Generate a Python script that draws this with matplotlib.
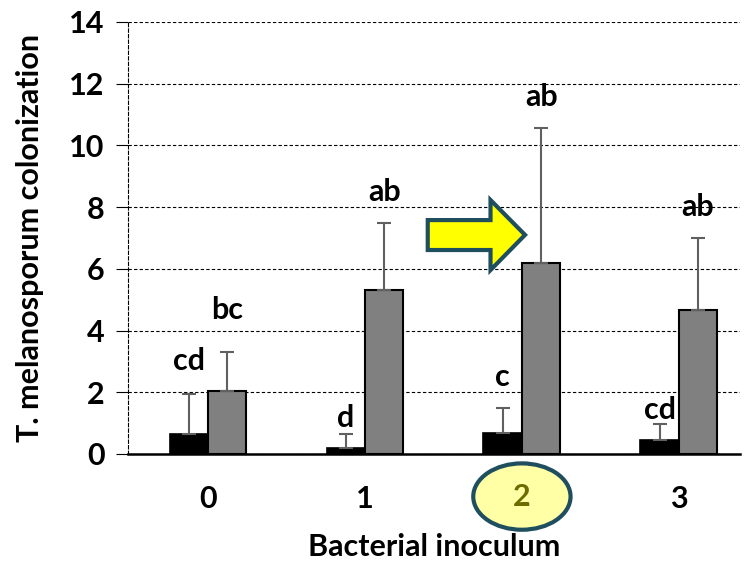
import matplotlib
matplotlib.use("Agg")
import matplotlib.pyplot as plt
import numpy as np
from matplotlib.patches import Ellipse, Polygon

plt.rcParams["font.family"] = ["Lato", "DejaVu Sans"]

inoculum = ["0", "1", "2", "3"]
black_vals = [0.65, 0.2, 0.68, 0.46]
black_err = [1.29, 0.45, 0.82, 0.51]
gray_vals = [2.04, 5.3, 6.2, 4.67]
gray_err = [1.26, 2.2, 4.37, 2.33]
black_letters = ["cd", "d", "c", "cd"]
gray_letters = ["bc", "ab", "ab", "ab"]
black_letter_y = [3.0, 1.17, 2.5, 1.43]
gray_letter_y = [4.67, 8.5, 11.57, 8.0]

FS = 22

fig = plt.figure(figsize=(7.46, 5.62), dpi=100)
ax = fig.add_axes([0.1716, 0.1922, 0.8204, 0.7687])

x = np.arange(len(inoculum))
w = 0.245
errkw = dict(ecolor="#606060", elinewidth=1.5, capsize=5, capthick=1.5)
ax.bar(x - w / 2, black_vals, w, color="black", edgecolor="black", linewidth=1.2,
       yerr=[np.zeros(4), black_err], error_kw=errkw, zorder=3)
ax.bar(x + w / 2, gray_vals, w, color="#808080", edgecolor="black", linewidth=1.5,
       yerr=[np.zeros(4), gray_err], error_kw=errkw, zorder=3)

for i in range(len(inoculum)):
    ax.text(x[i] - w / 2, black_letter_y[i], black_letters[i], ha="center", va="center",
            fontsize=FS, fontweight="bold")
    ax.text(x[i] + w / 2, gray_letter_y[i], gray_letters[i], ha="center", va="center",
            fontsize=FS, fontweight="bold")

ax.set_xlim(-0.51, 3.39)
ax.set_ylim(0, 14)
ax.set_yticks(np.arange(0, 15, 2))
ax.set_xticks(x)
ax.set_xticklabels(["0", "1", "", "3"])
ax.tick_params(axis="y", labelsize=FS, length=9, width=0.8, direction="out", pad=8)
ax.tick_params(axis="x", labelsize=FS, length=0, pad=22)
for lab in ax.get_xticklabels() + ax.get_yticklabels():
    lab.set_fontweight("bold")

ax.yaxis.grid(True, color="black", linestyle=(0, (3, 2)), linewidth=0.8, zorder=0)
ax.set_axisbelow(True)
for s in ["top", "right"]:
    ax.spines[s].set_visible(False)
ax.spines["left"].set_linestyle((0, (3, 2)))
ax.spines["left"].set_linewidth(0.8)
ax.spines["bottom"].set_linewidth(1.8)

ax.set_ylabel("T. melanosporum colonization", fontsize=FS, fontweight="bold")
ax.yaxis.set_label_coords(-0.137, 0.5)
ax.set_xlabel("Bacterial inoculum", fontsize=FS, fontweight="bold")
ax.xaxis.set_label_coords(0.5, -0.182)

# highlight for inoculum 2
ell = Ellipse((2, -1.38), 0.62, 2.15, facecolor="#FFFFA6", edgecolor="#1F4E5F",
              linewidth=3, clip_on=False, zorder=5)
ax.add_patch(ell)
ax.text(2, -1.38, "2", ha="center", va="center", fontsize=FS, fontweight="bold",
        color="#6B6B00", zorder=6)

arrow = Polygon([(1.40, 7.58), (1.80, 7.58), (1.80, 8.23), (2.02, 7.1),
                 (1.80, 5.96), (1.80, 6.61), (1.40, 6.61)], closed=True,
                facecolor="#FFFF00", edgecolor="#1F4E5F", linewidth=3, zorder=5)
ax.add_patch(arrow)

fig.savefig("out.png", dpi=100)
